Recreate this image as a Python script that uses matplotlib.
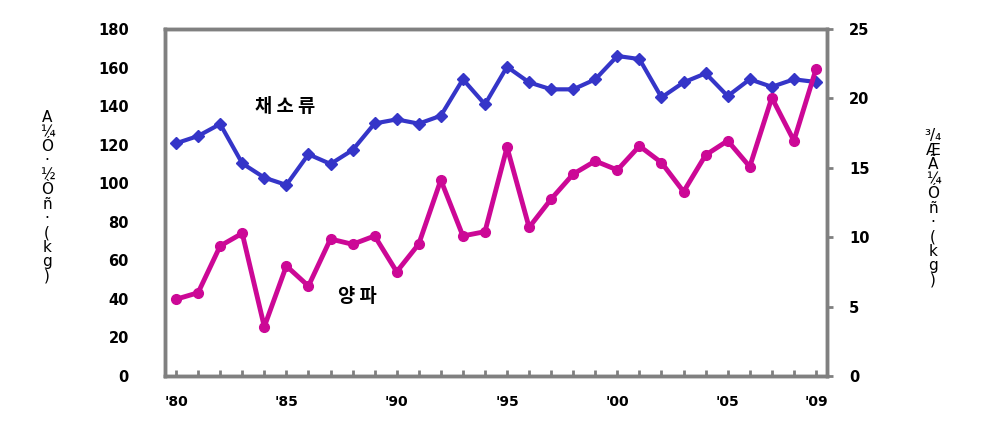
import matplotlib.pyplot as plt

plt.rcParams['font.family'] = ['DejaVu Sans']

years = list(range(1980, 2010))
# 채소류 (left axis)
veg = [120.7, 124.5, 130.7, 110.3, 102.9, 99.1, 115.0, 110.0, 117.2, 131.0,
       133.1, 130.9, 135.0, 153.9, 140.9, 160.4, 152.3, 148.7, 148.7, 153.9,
       166.0, 164.4, 144.5, 152.3, 157.0, 145.2, 153.9, 150.0, 153.9, 152.5]
# 양파 (right axis)
onion = [5.53, 6.0, 9.37, 10.28, 3.55, 7.93, 6.48, 9.87, 9.49, 10.09,
         7.51, 9.51, 14.12, 10.09, 10.4, 16.48, 10.71, 12.75, 14.55, 15.49,
         14.84, 16.57, 15.37, 13.28, 15.92, 16.95, 15.08, 20.05, 16.95, 22.1]
xlabels = {1980: "'80", 1985: "'85", 1990: "'90", 1995: "'95",
           2000: "'00", 2005: "'05", 2009: "'09"}
left_ticks = [0, 20, 40, 60, 80, 100, 120, 140, 160, 180]
right_ticks = [0, 5, 10, 15, 20, 25]

blue = '#3535c8'
magenta = '#cc0896'
grey = '#808080'

fig = plt.figure(figsize=(9.9, 4.33), dpi=100)
ax1 = fig.add_axes([165 / 990, 1 - 376 / 433, 662 / 990, 347 / 433])
ax2 = ax1.twinx()

x = list(range(len(years)))
ax1.plot(x, veg, color=blue, linewidth=3, marker='D', markersize=6, zorder=3)
ax2.plot(x, onion, color=magenta, linewidth=3.5, marker='o', markersize=7, zorder=3)

ax1.set_xlim(-0.5, len(years) - 0.5)
ax1.set_ylim(0, 180)
ax2.set_ylim(0, 25)

ax1.set_xticks(x)
ax1.set_xticklabels([xlabels.get(y, '') for y in years], fontsize=10, fontweight='bold')
ax1.tick_params(axis='x', direction='in', length=4, width=2, color=grey, pad=14)
ax1.set_yticks(left_ticks)
ax1.set_yticklabels([str(v) for v in left_ticks], fontsize=10.5, fontweight='bold')
ax1.tick_params(axis='y', length=0, pad=26)
ax2.set_yticks(right_ticks)
ax2.set_yticklabels([str(v) for v in right_ticks], fontsize=10.5, fontweight='bold')
ax2.tick_params(axis='y', direction='out', length=4, width=2, color=grey, pad=12)

for ax in (ax1, ax2):
    for s in ax.spines.values():
        s.set_color(grey)
        s.set_linewidth(2.5)

ax1.text(4.95, 140, '채 소 류', family=['Noto Sans CJK KR', 'DejaVu Sans'],
         fontsize=13.5, fontweight='bold', ha='center', va='center')
ax1.text(8.2, 41, '양 파', family=['Noto Sans CJK KR', 'DejaVu Sans'],
         fontsize=13.5, fontweight='bold', ha='center', va='center')

# garbled vertical axis titles as in the source
fig.text(47 / 990, 1 - 197 / 433, 'A\n¼\nÓ\n·\n½\nÒ\nñ\n·\n(\nk\ng\n)',
         fontsize=11, ha='center', va='center', linespacing=0.95)
fig.text(933 / 990, 1 - 208 / 433, '³/₄\nÆ\nÃ\n¼\nÓ\nñ\n·\n(\nk\ng\n)',
         fontsize=11, ha='center', va='center', linespacing=0.95)

fig.savefig('out.png', dpi=100)
